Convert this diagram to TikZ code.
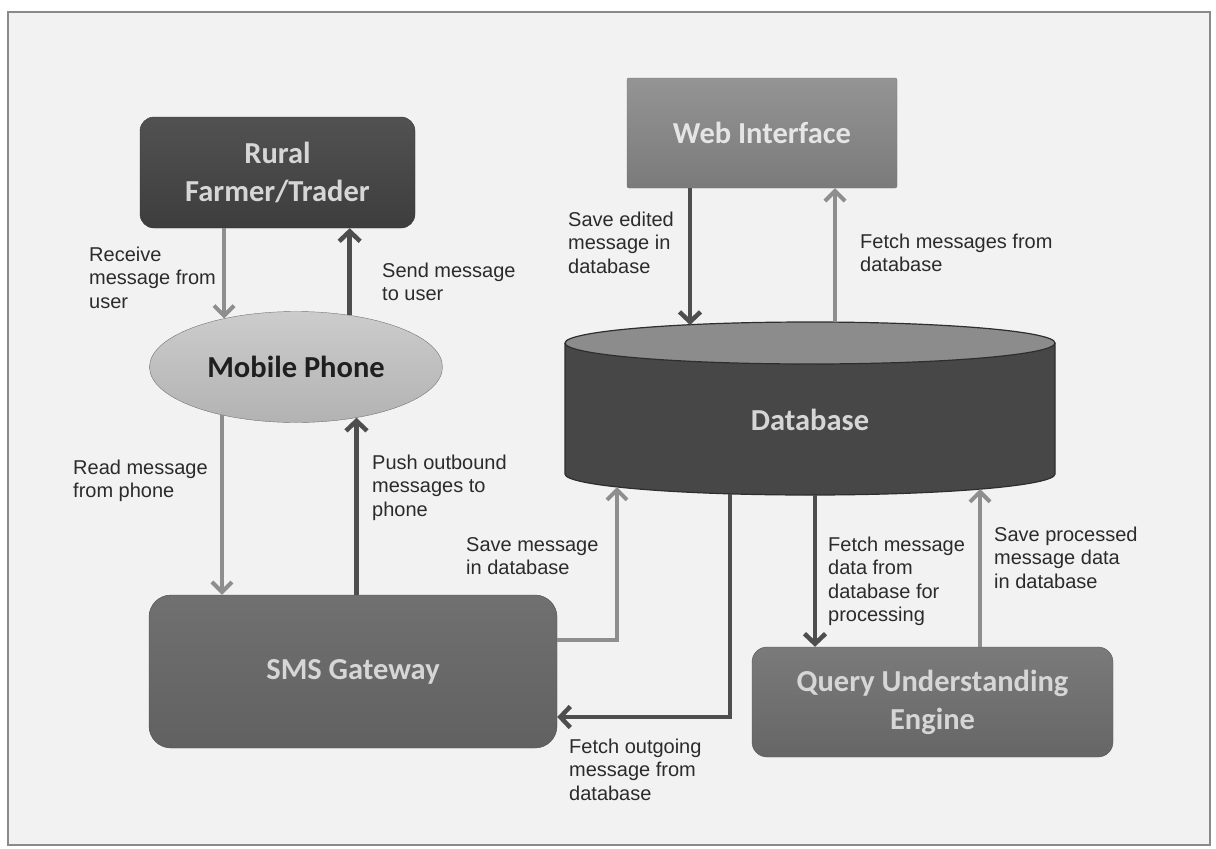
\documentclass[tikz,border=0pt]{standalone}
\usepackage{fontspec}
\setmainfont{Liberation Sans}
\newfontfamily\boxfont{Carlito}
\usetikzlibrary{arrows.meta, shapes.geometric, calc}
\definecolor{framegray}{HTML}{8A8A8A}
\definecolor{paper}{HTML}{F2F2F2}
\definecolor{notetext}{HTML}{2B2B2B}
\definecolor{boxtext}{HTML}{D6D6D6}
\definecolor{arrowdark}{HTML}{4E4E4E}
\definecolor{arrowlight}{HTML}{8E8E8E}
\tikzset{
	box text style/.style={
		font=\boxfont\bfseries\fontsize{30.5}{38}\selectfont,
		text=boxtext,
		align=center,
		inner sep=0pt
	},
	farmer box style/.style={
		box text style,
		rounded corners=14pt,
		draw=black!80,
		top color=black!68,
		bottom color=black!76,
		minimum width=275pt,
		minimum height=111pt
	},
	phone style/.style={
		ellipse,
		font=\boxfont\bfseries\fontsize{30.5}{38}\selectfont,
		text=black!88,
		inner sep=0pt,
		draw=black!55,
		top color=black!20,
		bottom color=black!30,
		minimum width=293pt,
		minimum height=111pt
	},
	gateway box style/.style={
		box text style,
		rounded corners=22pt,
		draw=black!70,
		top color=black!56,
		bottom color=black!62,
		minimum width=408pt,
		minimum height=153pt
	},
	web box style/.style={
		box text style,
		text=black!10,
		rounded corners=2pt,
		draw=black!55,
		top color=black!42,
		bottom color=black!52,
		minimum width=270pt,
		minimum height=110pt
	},
	engine box style/.style={
		box text style,
		rounded corners=15pt,
		draw=black!65,
		top color=black!52,
		bottom color=black!60,
		minimum width=361pt,
		minimum height=110pt
	},
	dark arrow style/.style={
		draw=arrowdark,
		line width=4.5pt,
		-{Straight Barb[length=10pt, width=21pt]}
	},
	light arrow style/.style={
		draw=arrowlight,
		line width=4pt,
		-{Straight Barb[length=10pt, width=20pt]}
	},
	% anchored at the baseline of the last line
	note style/.style={
		font=\fontsize{20}{23.5}\selectfont,
		text=notetext,
		align=left,
		inner sep=0pt,
		anchor=base west
	}
}

\begin{document}
\begin{tikzpicture}[x=1pt, y=-1pt]
	
	% --- 1. Page and frame ---
	\useasboundingbox (0,0) rectangle (1216,849);
	\fill[white] (0,0) rectangle (1216,849);
	\draw[framegray, line width=1.5pt, fill=paper] (8,12) rectangle (1210,845);
	
	% --- 2. The database cylinder ---
	\fill[black!72] (565,343) -- (565,474)
		arc[start angle=180, end angle=360, x radius=245pt, y radius=21pt]
		-- (1055,343) -- cycle;
	\draw[black!82, line width=1.2pt] (565,343) -- (565,474)
		arc[start angle=180, end angle=360, x radius=245pt, y radius=21pt]
		-- (1055,343);
	\draw[black!82, line width=1.2pt, fill=black!45] (810,343) ellipse [x radius=245pt, y radius=21pt];
	\node[box text style] (db) at (810,420) {Database};
	
	% points on the rim of the cylinder
	\coordinate (dbedit) at (690,325);
	\coordinate (dbfetch) at (835,322);
	\coordinate (dbsave) at (617,487);
	\coordinate (dbout) at (730,494);
	\coordinate (dbproc) at (815,495);
	\coordinate (dbres) at (980,489);
	
	% --- 3. The other blocks ---
	\node[farmer box style] (rural) at (277.5,172.5) {Rural\\Farmer/Trader};
	\node[phone style] (phone) at (296,367) {Mobile Phone};
	\node[gateway box style] (sms) at (353,671.5) {SMS Gateway};
	\node[web box style] (web) at (762,133) {Web Interface};
	\node[engine box style] (que) at (932.5,702) {Query Understanding\\Engine};
	
	% --- 4. Arrows ---
	% farmer <-> phone
	\draw[light arrow style] (rural.south -| phone.146.6) -- (phone.146.6);
	\draw[dark arrow style] (phone.44.9) -- (rural.south -| phone.44.9);
	% phone <-> gateway
	\draw[light arrow style] (phone.213.4) -- (sms.north -| phone.213.4);
	\draw[dark arrow style] (sms.north -| phone.320.9) -- (phone.320.9);
	% gateway <-> database
	\draw[light arrow style] ([yshift=31.5pt]sms.east) -| (dbsave);
	\draw[dark arrow style] (dbout) |- ([yshift=-45.5pt]sms.east);
	% web interface <-> database
	\draw[dark arrow style] (web.south -| dbedit) -- (dbedit);
	\draw[light arrow style] (dbfetch) -- (web.south -| dbfetch);
	% engine <-> database
	\draw[dark arrow style] (dbproc) -- (que.north -| dbproc);
	\draw[light arrow style] (que.north -| dbres) -- (dbres);
	
	% --- 5. Labels ---
	\node[note style] (receive) at (89,308) {Receive\\message from\\user};
	\node[note style] (send) at (382,300.5) {Send message\\to user};
	\node[note style] (read) at (73,497.5) {Read message\\from phone};
	\node[note style] (push) at (372,516) {Push outbound\\messages to\\phone};
	\node[note style] (savemsg) at (466,574.5) {Save message\\in database};
	\node[note style] (fetchout) at (569,800) {Fetch outgoing\\message from\\database};
	\node[note style] (saveedit) at (568,273) {Save edited\\message in\\database};
	\node[note style] (fetchmsgs) at (860,271.5) {Fetch messages from\\database};
	\node[note style] (fetchproc) at (828,621.5) {Fetch message\\data from\\database for\\processing};
	\node[note style] (saveproc) at (994,588) {Save processed\\message data\\in database};
	
\end{tikzpicture}
\end{document}
